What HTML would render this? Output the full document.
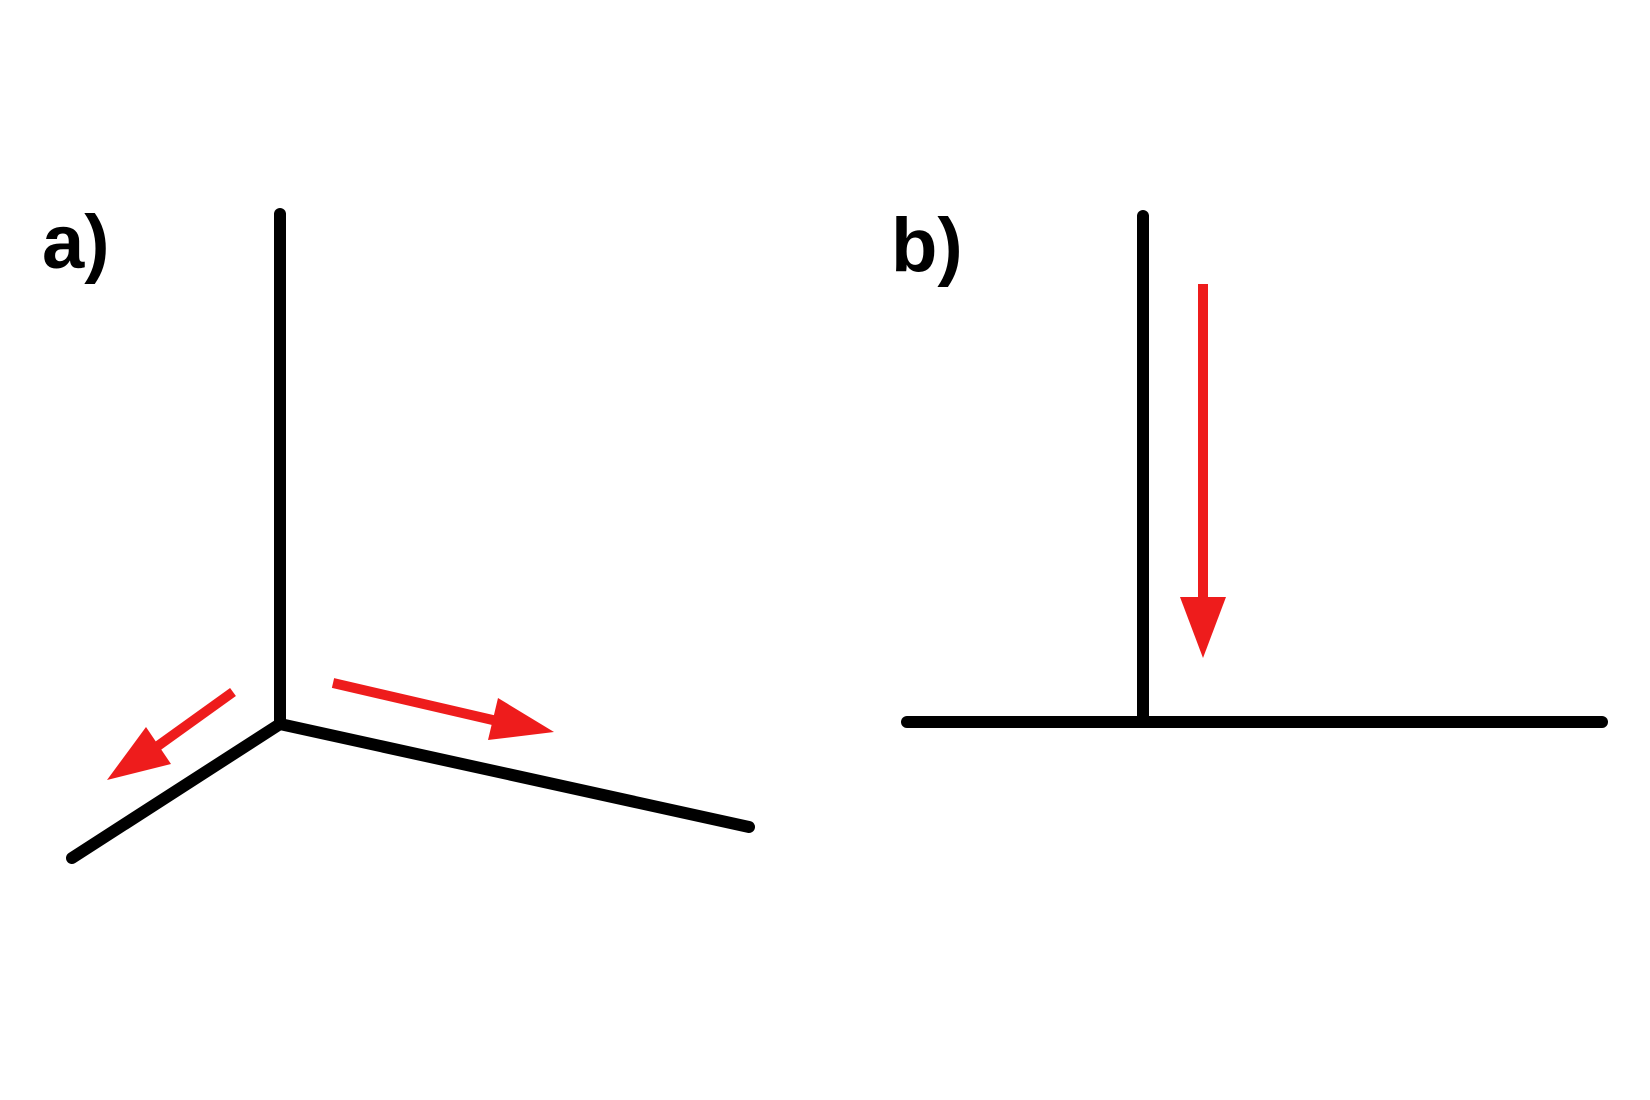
<!DOCTYPE html>
<html><head><style>
html,body{margin:0;padding:0;background:#fff;}
svg{display:block;}
</style></head><body>
<svg width="1650" height="1100" viewBox="0 0 1650 1100" xmlns="http://www.w3.org/2000/svg">
<rect width="1650" height="1100" fill="#fff"/>
<g stroke="#000" stroke-width="12" stroke-linecap="round" fill="none">
<line x1="280" y1="214" x2="280" y2="724"/>
<polyline points="72,858 280,724 749,827" stroke-linejoin="round"/>
<line x1="1143" y1="216" x2="1143" y2="722"/>
<line x1="907" y1="722" x2="1602" y2="722"/>
</g>
<g fill="#ee1c1c" stroke="#ee1c1c">
<line x1="233" y1="692" x2="155" y2="748" stroke-width="10"/>
<polygon points="107,780 146,727 171,764" stroke="none"/>
<line x1="333" y1="683" x2="497" y2="721" stroke-width="10"/>
<polygon points="554,732 498,698 488,740" stroke="none"/>
<line x1="1203" y1="284" x2="1203" y2="600" stroke-width="10"/>
<polygon points="1180,597 1226,597 1203,658" stroke="none"/>
</g>
<text x="42" y="268" font-family="Liberation Sans, sans-serif" font-size="76" font-weight="bold" fill="#000">a)</text>
<text x="891" y="271" font-family="Liberation Sans, sans-serif" font-size="76" font-weight="bold" fill="#000">b)</text>
</svg>
</body></html>
